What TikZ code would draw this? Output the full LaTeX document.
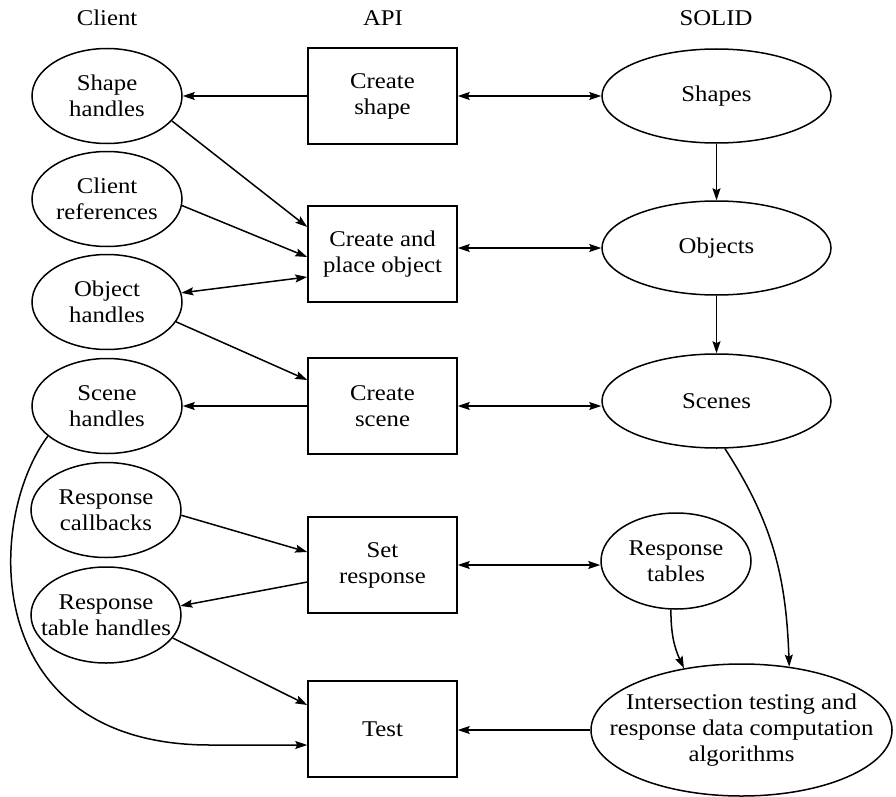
\documentclass[tikz,border=0pt]{standalone}
\usepackage{fontspec}
\setmainfont{Liberation Serif}[FakeStretch=1.1]
\usetikzlibrary{shapes.geometric,arrows.meta}
\begin{document}
\begin{tikzpicture}[x=1pt,y=-1pt,
  every node/.style={font=\fontsize{22.5}{26}\selectfont},
  txt/.style={align=center, inner sep=0pt, font=\fontsize{22.5}{26}\selectfont},
  ell/.style 2 args={ellipse, draw, line width=1.5pt, minimum width=#1, minimum height=#2, inner sep=0pt},
  box/.style={rectangle, draw, line width=1.5pt, minimum width=149pt, minimum height=96pt, inner sep=0pt, align=center},
  arr/.style={line width=1.5pt, -{Stealth[length=12pt,width=8pt,inset=2pt]}},
  darr/.style={line width=1.5pt, {Stealth[length=12pt,width=8pt,inset=2pt]}-{Stealth[length=12pt,width=8pt,inset=2pt]}}
]
\useasboundingbox (0,0) rectangle (896,797);

% headers
\node[txt] (hC) at (107,18) {Client};
\node[txt] (hA) at (383,18) {API};
\node[txt] (hS) at (716,18) {SOLID};

% client ellipses
\node[ell={150pt}{95pt}, label={[txt]center:Shape\\handles}] (SH) at (107,96) {};
\node[ell={150pt}{95pt}, label={[txt]center:Client\\references}] (CR) at (107,199) {};
\node[ell={150pt}{95pt}, label={[txt]center:Object\\handles}] (OH) at (107,302) {};
\node[ell={150pt}{95pt}, label={[txt]center:Scene\\handles}] (ScH) at (107,406) {};
\node[ell={150pt}{95pt}, label={[txt]center:Response\\callbacks}] (RC) at (106,510) {};
\node[ell={150pt}{96pt}, label={[txt]center:Response\\table handles}] (RTH) at (106,615) {};

% API boxes
\node[box] (CS) at (382.5,96) {Create\\shape};
\node[box] (CPO) at (382.5,254) {Create and\\place object};
\node[box] (CSc) at (382.5,406) {Create\\scene};
\node[box] (SR) at (382.5,565) {Set\\response};
\node[box] (T) at (382.5,729) {Test};

% SOLID ellipses
\node[ell={229pt}{94pt}, label={[txt]center:Shapes}] (Sh) at (716.5,96) {};
\node[ell={229pt}{94pt}, label={[txt]center:Objects}] (Ob) at (716.5,248) {};
\node[ell={229pt}{94pt}, label={[txt]center:Scenes}] (Sc) at (716.5,401) {};
\node[ell={150pt}{96pt}, label={[txt]center:Response\\tables}] (RT) at (676,561) {};
\node[ell={301pt}{132pt}, label={[txt]center:Intersection testing and\\response data computation\\algorithms}] (IT) at (741.5,730) {};

% connectors
\draw[arr] (CS.west) -- (SH.east);
\draw[darr] (CS.east) -- (Sh.west);
\draw[arr] (SH.-21) -- ([yshift=27pt]CPO.west);
\draw[arr] (CR.-5) -- ([yshift=-3pt]CPO.west);
\draw[darr] (OH.7) -- ([yshift=-23pt]CPO.west);
\draw[darr] (CPO.east |- Ob.west) -- (Ob.west);
\draw[arr] (OH.-16) -- ([yshift=26pt]CSc.west);
\draw[arr] (CSc.west) -- (ScH.east);
\draw[darr] (CSc.east) -- (CSc.east -| Sc.west);
\draw[arr] (Sh.south) -- (Ob.north);
\draw[arr] (Ob.south) -- (Sc.north);
\draw[arr] (RC.-4) -- ([yshift=13pt]SR.west);
\draw[arr] ([yshift=-17pt]SR.west) -- (RTH.7);
\draw[darr] (SR.east) -- (SR.east -| RT.west);
\draw[arr] (RTH.-19) -- ([yshift=24pt]T.west);
\coordinate (cv) at (210,745);
\draw[arr] (ScH.207) .. controls (-15,520) and (-20,745) .. (cv) -- ([yshift=-16pt]T.west);
\draw[arr] (Sc.280) to[out=-57,in=92] (IT.53);
\draw[arr] (RT.264) to[out=-90,in=115] (IT.133);
\draw[arr] (IT.west) -- (IT.west -| T.east);
\end{tikzpicture}
\end{document}
